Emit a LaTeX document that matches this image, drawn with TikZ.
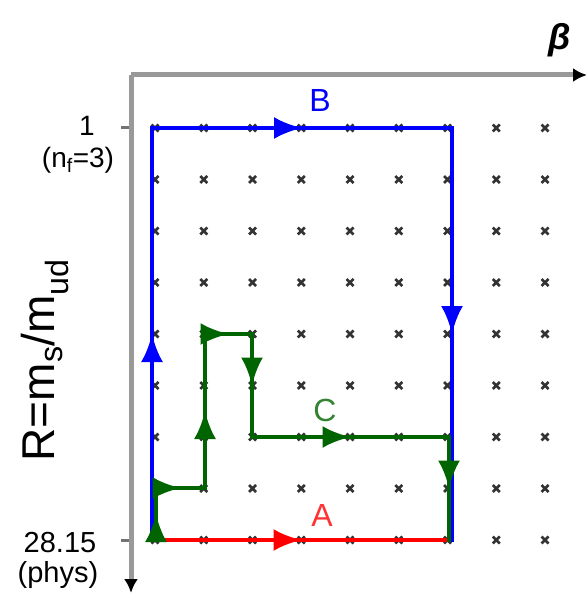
\documentclass[tikz,border=0pt]{standalone}
\usepackage{fontspec}
\setmainfont{Liberation Sans}
\usetikzlibrary{arrows.meta,decorations.markings}

\tikzset{
  midarrow/.style={postaction={decorate,decoration={markings,
      mark=at position 0.5 with {\arrow{Latex[length=28pt,width=22pt]}}}}},
  pathline/.style={line width=4pt, line cap=rect, midarrow},
  gridmark/.style={line width=2.6pt, black!80},
  axisline/.style={line width=5pt, black!40},
}

\begin{document}
\begin{tikzpicture}[x=1pt,y=-1pt,>=Latex]
    \definecolor{pathblue}{RGB}{0,0,255}
    \definecolor{pathgreen}{RGB}{0,100,0}
    \definecolor{pathred}{RGB}{255,0,0}
    \useasboundingbox (0,0) rectangle (587,593);

    % lattice points (beta, R)
    \foreach \i in {0,...,8}
      \foreach \j in {0,...,8}
        \draw[gridmark] ({155+48.75*\i-3.5},{128+51.5*\j-3.5}) -- ++(7,7)
                        ({155+48.75*\i-3.5},{128+51.5*\j+3.5}) -- ++(7,-7);

    % axes
    \coordinate (corner) at (131,75);
    \coordinate (betaend) at (587,75);
    \coordinate (Rend) at (131,593);
    \draw[axisline, -{Latex[length=14pt,width=14pt,color=black]}] (corner) -- (betaend);
    \draw[axisline, -{Latex[length=14pt,width=14pt,color=black]}] (corner) -- (Rend);
    \node (betalab) at (560,40) {\fontsize{36}{36}\selectfont\bfseries\itshape β};

    % ticks on the R axis
    \coordinate (tickhi) at (121,128);
    \coordinate (ticklo) at (121,540);
    \draw[line width=3pt, black!55] (tickhi) -- ++(8,0);
    \draw[line width=3pt, black!55] (ticklo) -- ++(8,0);
    \node (onelab) at (87,126) {\fontsize{28}{28}\selectfont 1};
    \node (nflab) at (78,160) {\fontsize{28}{28}\selectfont (n\textsubscript{f}=3)};
    \node (physval) at (60,543) {\fontsize{29}{29}\selectfont 28.15};
    \node (physlab) at (58,575) {\fontsize{29}{29}\selectfont (phys)};
    \node[rotate=90] (Rlab) at (45,360)
      {\fontsize{46}{46}\selectfont R=m\textsubscript{s}/m\textsubscript{ud}};

    % path B
    \coordinate (b0) at (152,540);
    \coordinate (b1) at (152,128);
    \coordinate (b2) at (452,128);
    \coordinate (b3) at (452,540);
    \draw[pathline, pathblue] (b0) -- (b1);
    \draw[pathline, pathblue] (b1) -- (b2);
    \draw[pathline, pathblue] (b2) -- (b3);
    \node[text=pathblue] (Blab) at (320,100) {\fontsize{32}{32}\selectfont B};

    % path A
    \coordinate (a0) at (155,540);
    \coordinate (a1) at (448,540);
    \draw[pathline, pathred] (a0) -- (a1);
    \node[text=pathred!80] (Alab) at (322,515) {\fontsize{32}{32}\selectfont A};

    % path C
    \coordinate (c0) at (156,540);
    \coordinate (c1) at (156,488);
    \coordinate (c2) at (205,488);
    \coordinate (c3) at (205,334);
    \coordinate (c4) at (252,334);
    \coordinate (c5) at (252,437);
    \coordinate (c6) at (449,437);
    \coordinate (c7) at (449,540);
    \draw[pathline, pathgreen] (c0) -- (c1);
    \draw[pathline, pathgreen] (c1) -- (c2);
    \draw[pathline, pathgreen] (c2) -- (c3);
    \draw[pathline, pathgreen] (c3) -- (c4);
    \draw[pathline, pathgreen] (c4) -- (c5);
    \draw[pathline, pathgreen] (c5) -- (c6);
    \draw[pathline, pathgreen] (c6) -- (c7);
    \node[text=pathgreen!80] (Clab) at (325,410) {\fontsize{32}{32}\selectfont C};
\end{tikzpicture}
\end{document}
